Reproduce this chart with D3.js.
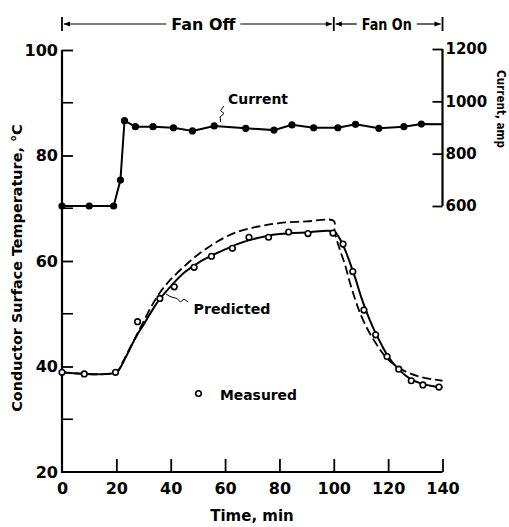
<!DOCTYPE html>
<html>
<head>
<meta charset="utf-8">
<script src="https://cdn.jsdelivr.net/npm/d3@7"></script>
<style>
  html, body { margin: 0; padding: 0; background: #fff; }
  svg { display: block; }
  text { font-family: "DejaVu Sans", sans-serif; font-weight: bold; fill: #000; }
</style>
</head>
<body>
<svg id="chart" width="509" height="527"></svg>
<script>
// ---- data ----
const timeTicks = [0, 20, 40, 60, 80, 100, 120, 140];
const tempTicks = [20, 40, 60, 80, 100];
const tempMinorTicks = [30, 50, 70, 90];
const ampTicks = [600, 800, 1000, 1200];

const currentTime = [0, 10, 19, 21.5, 23, 27, 33.5, 41, 48, 56, 67.6, 78, 84.6, 92.6, 101.5, 108, 116.6, 125.8, 132.2, 140];
const currentAmp  = [600, 600, 600, 699, 926, 903, 903, 899, 887, 906, 897, 890, 910, 899, 899, 912, 897, 903, 913, 912];

const measuredTime = [0, 8.2, 19.7, 27.8, 36, 41.3, 48.6, 55, 62.7, 68.8, 76, 83.4, 90.5, 99.7, 103.4, 107, 111.1, 115.4, 119.6, 123.9, 128.5, 132.8, 138.7];
const measuredTemp = [38.9, 38.6, 38.9, 48.5, 52.9, 55.1, 58.8, 60.9, 62.4, 64.5, 64.5, 65.5, 65.2, 65.3, 63.2, 58, 50.7, 46, 41.9, 39.5, 37.3, 36.5, 36.1];

const predictedTime = [0, 20, 22, 24, 26, 28, 30, 33, 36, 40, 45, 50, 55, 60, 65, 70, 75, 80, 90, 100, 102, 104, 106, 108, 110, 112, 114, 116, 118, 120, 124, 128, 132, 136, 140];
const predictedTemp = [38.9, 38.9, 40.3, 42.3, 44.4, 46.3, 47.9, 50.5, 52.8, 55.2, 57.8, 59.6, 61.0, 62.2, 63.3, 64.1, 64.7, 65.1, 65.4, 65.6, 64.4, 62.3, 59.6, 56.6, 53.3, 50.4, 47.9, 45.7, 43.7, 41.9, 39.4, 37.7, 36.8, 36.3, 36.0];

const altTime = [0, 20, 22, 24, 26, 28, 30, 33, 36, 40, 45, 50, 55, 60, 65, 70, 75, 80, 90, 100, 100.3, 102, 104, 106, 108, 110, 112, 114, 116, 118, 120, 124, 128, 132, 136, 140];
const altTemp = [38.9, 38.9, 40.5, 42.5, 44.5, 46.5, 48.5, 51.5, 54, 56.5, 59, 61.2, 63, 64.5, 65.6, 66.3, 66.8, 67.2, 67.5, 67.6, 65.6, 62.5, 59.5, 55.8, 52.5, 49.7, 47.5, 45.6, 44, 42.5, 41.3, 39.7, 38.7, 38.0, 37.6, 37.3];

const phaseStart = [0, 100];
const phaseEnd = [100, 140];
const phaseLabels = ["Fan Off", "Fan On"];

// ---- layout ----
const svg = d3.select("#chart");
const x = d3.scaleLinear().domain([0, 140]).range([62, 442.5]);
const y = d3.scaleLinear().domain([20, 100]).range([472, 50]);
const yA = d3.scaleLinear().domain([600, 1200]).range([206, 49]);

const ink = "#000";

// left axis
const leftAxis = d3.axisLeft(y).tickValues(tempTicks).tickSize(-11).tickPadding(4).tickSizeOuter(0);
const gL = svg.append("g").attr("transform", `translate(${x(0)},0)`).call(leftAxis);
gL.selectAll(".tick line").filter(d => d === 20).remove();
gL.selectAll(".tick text").attr("font-size", 16).attr("font-family", "DejaVu Sans").attr("font-weight", "bold");
gL.selectAll(".tick line").attr("stroke", ink).attr("stroke-width", 1.8);
gL.select(".domain").remove();
svg.append("g").selectAll("line").data(tempMinorTicks).join("line")
  .attr("x1", x(0)).attr("x2", x(0) + 11)
  .attr("y1", d => y(d)).attr("y2", d => y(d))
  .attr("stroke", ink).attr("stroke-width", 1.6);
svg.append("line").attr("x1", x(0)).attr("x2", x(0)).attr("y1", y(100)).attr("y2", y(20) + 1)
  .attr("stroke", ink).attr("stroke-width", 2.2);

// bottom axis
const bottomAxis = d3.axisBottom(x).tickValues(timeTicks).tickSize(-13).tickPadding(22).tickSizeOuter(0);
const gB = svg.append("g").attr("transform", `translate(0,${y(20)})`).call(bottomAxis);
gB.selectAll(".tick line").filter(d => d === 0).remove();
gB.selectAll(".tick line").attr("stroke", ink).attr("stroke-width", 1.8);
gB.selectAll(".tick text").attr("font-size", 16).attr("font-family", "DejaVu Sans").attr("font-weight", "bold").attr("dy", "0em");
gB.select(".domain").remove();
svg.append("line").attr("x1", x(0) - 1).attr("x2", x(140)).attr("y1", y(20)).attr("y2", y(20))
  .attr("stroke", ink).attr("stroke-width", 2.2);

// right axis
const rightAxis = d3.axisRight(yA).tickValues(ampTicks).tickFormat(d3.format("d"))
  .tickSize(-10).tickPadding(3).tickSizeOuter(0);
const gR = svg.append("g").attr("transform", `translate(${x(140)},0)`).call(rightAxis);
gR.selectAll(".tick line").attr("stroke", ink).attr("stroke-width", 1.8);
gR.selectAll(".tick text").attr("font-size", 15).attr("font-family", "DejaVu Sans").attr("font-weight", "bold");
gR.select(".domain").remove();
svg.append("line").attr("x1", x(140)).attr("x2", x(140)).attr("y1", yA(1200)).attr("y2", yA(600))
  .attr("stroke", ink).attr("stroke-width", 2.2);

// axis titles
svg.append("text").attr("transform", `translate(22,268) rotate(-90)`)
  .attr("text-anchor", "middle").attr("font-size", 14.4).text("Conductor Surface Temperature, °C");
svg.append("text").attr("transform", `translate(497,109) rotate(90)`)
  .attr("text-anchor", "middle").attr("font-size", 12.5)
  .attr("textLength", 78).attr("lengthAdjust", "spacingAndGlyphs").text("Current, amp");
svg.append("text").attr("x", 252).attr("y", 521).attr("text-anchor", "middle")
  .attr("font-size", 15).text("Time, min");

// phase annotation (Fan Off / Fan On)
const annY = 24;
const ann = svg.append("g");
[0, 100, 140].forEach(t => {
  ann.append("line").attr("x1", x(t)).attr("x2", x(t)).attr("y1", 17).attr("y2", 31)
    .attr("stroke", ink).attr("stroke-width", 1.8);
});
const labelCenters = [52, 119.5];
const labelWidths = [64, 50];
phaseLabels.forEach((lab, i) => {
  const cx = x(labelCenters[i]);
  ann.append("text").attr("x", cx).attr("y", 29.5).attr("text-anchor", "middle")
    .attr("font-size", 15).attr("textLength", labelWidths[i]).attr("lengthAdjust", "spacingAndGlyphs").text(lab);
  const x0 = x(phaseStart[i]), x1 = x(phaseEnd[i]);
  ann.append("line").attr("x1", x0 + 2).attr("x2", cx - labelWidths[i] / 2 - 5).attr("y1", annY).attr("y2", annY)
    .attr("stroke", ink).attr("stroke-width", 1.2);
  ann.append("line").attr("x1", cx + labelWidths[i] / 2 + 5).attr("x2", x1 - 2).attr("y1", annY).attr("y2", annY)
    .attr("stroke", ink).attr("stroke-width", 1.2);
  ann.append("path").attr("d", `M${x0 + 1.5},${annY} L${x0 + 8},${annY - 2.5} L${x0 + 8},${annY + 2.5} Z`).attr("fill", ink);
  ann.append("path").attr("d", `M${x1 - 1.5},${annY} L${x1 - 8},${annY - 2.5} L${x1 - 8},${annY + 2.5} Z`).attr("fill", ink);
});

// predicted curves
const curve = d3.curveCatmullRom.alpha(0.5);
const lineT = d3.line().x(d => x(d[0])).y(d => y(d[1])).curve(curve);
svg.append("path").attr("d", lineT(d3.zip(altTime, altTemp)))
  .attr("fill", "none").attr("stroke", ink).attr("stroke-width", 1.8).attr("stroke-dasharray", "9,4");
svg.append("path").attr("d", lineT(d3.zip(predictedTime, predictedTemp)))
  .attr("fill", "none").attr("stroke", ink).attr("stroke-width", 2);

// measured points
svg.append("g").selectAll("circle").data(d3.zip(measuredTime, measuredTemp)).join("circle")
  .attr("cx", d => x(d[0])).attr("cy", d => y(d[1])).attr("r", 2.8)
  .attr("fill", "#fff").attr("stroke", ink).attr("stroke-width", 1.6);

// current line
const lineA = d3.line().x(d => x(d[0])).y(d => yA(d[1]));
const curData = d3.zip(currentTime, currentAmp);
svg.append("path").attr("d", lineA(curData)).attr("fill", "none").attr("stroke", ink).attr("stroke-width", 2);
svg.append("g").selectAll("circle").data(curData.slice(0, -1)).join("circle")
  .attr("cx", d => x(d[0])).attr("cy", d => yA(d[1])).attr("r", 3.6).attr("fill", ink);

// labels with leaders
svg.append("text").attr("x", 258).attr("y", 104).attr("text-anchor", "middle")
  .attr("font-size", 14).attr("textLength", 60).attr("lengthAdjust", "spacingAndGlyphs").text("Current");
svg.append("path").attr("d", "M224,106 L220.5,110.5 L224,113.5 L220,117 L220.7,122")
  .attr("fill", "none").attr("stroke", ink).attr("stroke-width", 1);

svg.append("text").attr("x", 232).attr("y", 313.5).attr("text-anchor", "middle")
  .attr("font-size", 14).attr("textLength", 77).attr("lengthAdjust", "spacingAndGlyphs").text("Predicted");
svg.append("path").attr("d", "M188,302 L184,299 L180.5,302 L177,298.5 L170,296.5 L166,294")
  .attr("fill", "none").attr("stroke", ink).attr("stroke-width", 1);

svg.append("circle").attr("cx", 198.5).attr("cy", 393.5).attr("r", 2.8)
  .attr("fill", "#fff").attr("stroke", ink).attr("stroke-width", 1.6);
svg.append("text").attr("x", 258.5).attr("y", 399.5).attr("text-anchor", "middle")
  .attr("font-size", 14).attr("textLength", 77).attr("lengthAdjust", "spacingAndGlyphs").text("Measured");
</script>
</body>
</html>
